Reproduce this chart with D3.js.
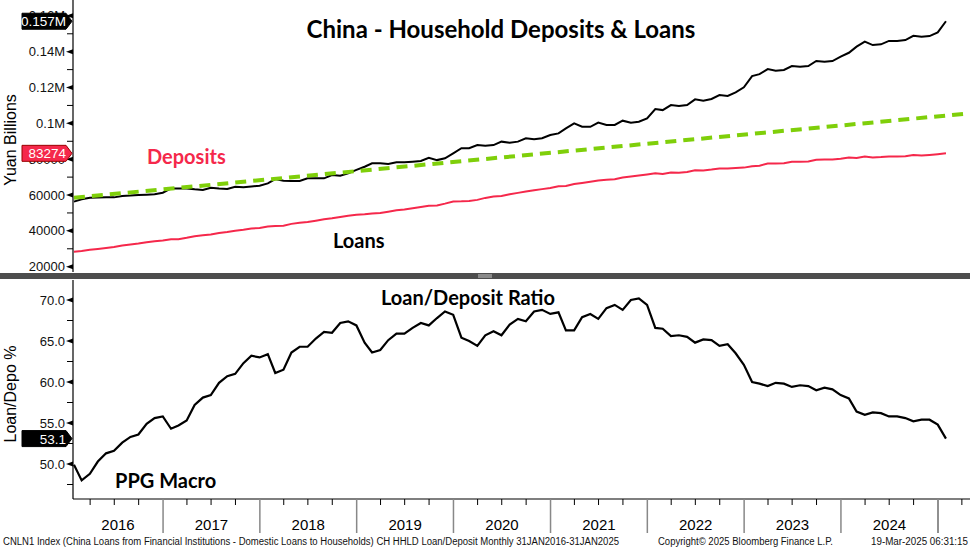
<!DOCTYPE html>
<html>
<head>
<meta charset="utf-8">
<script src="https://cdn.jsdelivr.net/npm/d3@7"></script>
<style>
  body { margin: 0; background: #fff; }
  svg { display: block; }
  .tick-label { font-family: "Liberation Sans", Arial, sans-serif; font-size: 13px; fill: #111; }
  .bold-label { font-family: Lato, "Open Sans", sans-serif; font-weight: bold; }
</style>
</head>
<body>
<div id="chart"></div>
<script>
var width = 970;
var height = 549;

// monthly observations, month ends Jan 2016 .. Jan 2025
var firstMonth = "2016-01";
var lastMonth = "2025-01";

// black line (upper series)
var deposits = [
  56300, 57600, 58500, 58600, 58700, 58700, 59500, 59700, 60000, 60200, 60400, 61300,
  63700, 63700, 63700, 63200, 62800, 64100, 63600, 63400, 64600, 64300, 64800, 65200,
  66500, 68900, 68000, 67800, 67800, 69300, 69300, 69300, 71200, 70800, 72100, 74000,
  75800, 77700, 77700, 77300, 78300, 78300, 78600, 79000, 80800, 79500, 80500, 83300,
  86100, 86100, 87900, 87500, 87900, 89800, 89200, 89800, 91700, 91100, 91700, 93500,
  94400, 97200, 100000, 98100, 98100, 100400, 99100, 99100, 101500, 100400, 100900, 102800,
  108000, 107400, 110200, 109700, 110200, 113400, 112600, 113600, 115800, 115300, 117300, 120100,
  126400, 127500, 130300, 129400, 129800, 132000, 131600, 132000, 134800, 134400, 134800, 137200,
  139400, 142800, 145600, 143700, 144100, 146000, 146000, 146500, 148900, 148300, 148700, 150800,
  157000
];

// red line (lower series)
var loans = [
  28400, 28800, 29400, 29900, 30500, 31000, 31800, 32400, 32900, 33600, 34200, 34600,
  35300, 35300, 36100, 37000, 37500, 38000, 38800, 39400, 40100, 40600, 41300, 41600,
  42400, 42700, 42900, 43900, 44500, 44900, 45700, 46500, 47000, 47800, 48500, 49000,
  49300, 49700, 50000, 50700, 51500, 51900, 52600, 53300, 54000, 54200, 55200, 56400,
  56500, 56700, 57300, 58400, 59200, 59500, 60400, 61200, 62000, 62700, 63300, 63900,
  64900, 65000, 66100, 66700, 67400, 68100, 68500, 68800, 69800, 70400, 70900, 71500,
  72200, 71800, 72600, 72400, 72800, 73800, 73700, 74200, 74800, 74800, 75100, 75300,
  76000, 76400, 77600, 77600, 77800, 78600, 78600, 78700, 79700, 79800, 79800, 80200,
  80900, 80700, 81500, 81000, 81200, 81500, 81500, 81600, 82300, 82100, 82400, 82800,
  83274
];

// loan / deposit ratio, %
var ratio = [
  49.9, 48.0, 48.8, 50.3, 51.3, 51.6, 52.6, 53.3, 53.6, 54.9, 55.6, 55.8,
  54.3, 54.7, 55.3, 57.2, 58.1, 58.4, 59.9, 60.7, 61.0, 62.3, 63.2, 63.0,
  63.4, 61.1, 61.5, 63.6, 64.3, 64.3, 65.3, 66.1, 66.0, 67.2, 67.4, 66.9,
  64.8, 63.6, 63.9, 65.1, 65.9, 65.9, 66.6, 67.2, 66.9, 67.8, 68.6, 68.2,
  65.4, 65.0, 64.4, 65.7, 66.2, 65.7, 67.0, 67.7, 67.4, 68.6, 68.8, 68.3,
  68.5, 66.3, 66.3, 67.9, 68.3, 67.7, 69.0, 69.4, 68.8, 70.0, 70.2, 69.4,
  66.6, 66.5, 65.6, 65.7, 65.5, 64.8, 65.2, 65.1, 64.4, 64.6, 63.5, 62.1,
  60.0, 59.8, 59.5, 59.9, 59.8, 59.4, 59.6, 59.5, 59.0, 59.3, 59.1, 58.4,
  58.0, 56.4, 56.0, 56.3, 56.2, 55.8, 55.8, 55.6, 55.2, 55.4, 55.4, 54.8,
  53.1
];

// green dashed trend line end points
var trendDates = ["2016-01-31", "2025-05-01"];
var trendValues = [58500, 105600];

var yearLabels = ["2016", "2017", "2018", "2019", "2020", "2021", "2022", "2023", "2024"];
var topTicks = [20000, 40000, 60000, 80000, 100000, 120000, 140000, 160000];
var topMinor = [30000, 50000, 70000, 90000, 110000, 130000, 150000];
var bottomTicks = [50, 55, 60, 65, 70];
var bottomMinor = [47.5, 52.5, 57.5, 62.5, 67.5];

var parseDay = d3.utcParse("%Y-%m-%d");
var parseMonth = d3.utcParse("%Y-%m");
// month-end date for each observation
var dates = d3.utcMonth.range(parseMonth(firstMonth), d3.utcMonth.offset(parseMonth(lastMonth), 1))
  .map(function(d) { return d3.utcDay.offset(d3.utcMonth.offset(d, 1), -1); });

var left = 73, right = 970;
var topPanel = { top: 0, bottom: 272 };
var botPanel = { top: 280, bottom: 499 };

var svg = d3.select("#chart").append("svg")
  .attr("width", width).attr("height", height);
svg.append("rect").attr("width", width).attr("height", height).attr("fill", "#fff");

var x = d3.scaleUtc()
  .domain([parseDay("2016-01-01"), parseDay("2025-01-01")])
  .range([66, 938]);

var yTop = d3.scaleLinear().domain([20000, 140000]).range([266.7, 51.7]);
var yBot = d3.scaleLinear().domain([50, 70]).range([464, 300]);

svg.append("clipPath").attr("id", "clipTop").append("rect")
  .attr("x", left).attr("y", topPanel.top).attr("width", right - left).attr("height", topPanel.bottom - topPanel.top);
svg.append("clipPath").attr("id", "clipBot").append("rect")
  .attr("x", left).attr("y", botPanel.top).attr("width", right - left).attr("height", botPanel.bottom - botPanel.top);

// ---------- left axes ----------
function fmtTop(v) {
  if (v >= 100000) return (v / 1e6) + "M";
  return String(v);
}

function drawLeftAxis(scale, majors, minors, y0, y1, fmt) {
  var g = svg.append("g");
  g.append("line").attr("x1", left).attr("x2", left).attr("y1", y0).attr("y2", y1)
    .attr("stroke", "#000").attr("stroke-width", 1.2);
  minors.forEach(function(v) {
    var yy = scale(v);
    if (yy < y0 || yy > y1) return;
    g.append("line").attr("x1", left - 6).attr("x2", left).attr("y1", yy).attr("y2", yy)
      .attr("stroke", "#000");
  });
  majors.forEach(function(v) {
    var yy = scale(v);
    if (yy < y0 || yy > y1) return;
    g.append("path")
      .attr("d", "M" + left + "," + (yy - 2.5) + "L" + (left - 7) + "," + yy + "L" + left + "," + (yy + 2.5) + "Z")
      .attr("fill", "#000");
    g.append("text").attr("class", "tick-label")
      .attr("x", left - 8).attr("y", yy + 4.5)
      .attr("text-anchor", "end")
      .text(fmt(v));
  });
}

drawLeftAxis(yTop, topTicks, topMinor, topPanel.top, topPanel.bottom, fmtTop);
drawLeftAxis(yBot, bottomTicks, bottomMinor, botPanel.top, botPanel.bottom, function(v) { return v.toFixed(1); });

// axis titles
svg.append("text")
  .attr("transform", "translate(16,140) rotate(-90)")
  .attr("text-anchor", "middle")
  .style("font-family", "'Liberation Sans', Arial, sans-serif").style("font-size", "16px")
  .text("Yuan Billions");
svg.append("text")
  .attr("transform", "translate(16,394) rotate(-90)")
  .attr("text-anchor", "middle")
  .style("font-family", "'Liberation Sans', Arial, sans-serif").style("font-size", "16px")
  .text("Loan/Depo %");

// ---------- top panel lines ----------
var lineTop = d3.line()
  .x(function(d, i) { return x(dates[i]); })
  .y(function(d) { return yTop(d); });

var topG = svg.append("g").attr("clip-path", "url(#clipTop)");

topG.append("path")
  .datum(loans)
  .attr("d", lineTop)
  .attr("fill", "none").attr("stroke", "#f5284b").attr("stroke-width", 2);

topG.append("path")
  .datum(deposits)
  .attr("d", lineTop)
  .attr("fill", "none").attr("stroke", "#000").attr("stroke-width", 2);

var trendLine = d3.line()
  .x(function(d, i) { return x(parseDay(trendDates[i])); })
  .y(function(d) { return yTop(d); });

topG.append("path")
  .datum(trendValues)
  .attr("d", trendLine)
  .attr("fill", "none").attr("stroke", "#7fcf0a").attr("stroke-width", 4)
  .attr("stroke-dasharray", "11,7");

// ---------- bottom panel line ----------
var lineBot = d3.line()
  .x(function(d, i) { return x(dates[i]); })
  .y(function(d) { return yBot(d); });

svg.append("g").attr("clip-path", "url(#clipBot)")
  .append("path")
  .datum(ratio)
  .attr("d", lineBot)
  .attr("fill", "none").attr("stroke", "#000").attr("stroke-width", 2.2);

// ---------- last value tags ----------
function tag(yc, fill, stroke, label) {
  var g = svg.append("g");
  g.append("path")
    .attr("d", "M22," + (yc - 8) + "L66," + (yc - 8) + "L72," + yc + "L66," + (yc + 8) + "L22," + (yc + 8) + "Z")
    .attr("fill", fill).attr("stroke", stroke).attr("stroke-width", 1);
  g.append("text").attr("class", "tick-label")
    .attr("x", 66).attr("y", yc + 5)
    .attr("text-anchor", "end")
    .style("fill", "#fff")
    .style("font-size", "13.5px")
    .text(label);
}
tag(yTop(deposits[deposits.length - 1]), "#000", "#000", "0.157M");
tag(yTop(loans[loans.length - 1]), "#f5284b", "#900", String(loans[loans.length - 1]));
tag(yBot(ratio[ratio.length - 1]), "#000", "#000", ratio[ratio.length - 1].toFixed(1));

// ---------- separator between panels ----------
svg.append("rect").attr("x", 0).attr("y", 273).attr("width", width).attr("height", 6).attr("fill", "#4d4d4d");
[275, 277].forEach(function(yy) {
  svg.append("line").attr("x1", 478).attr("x2", 492).attr("y1", yy).attr("y2", yy)
    .attr("stroke", "#c8c8c8").attr("stroke-width", 1);
});

// ---------- bottom time axis ----------
var xg = svg.append("g");
xg.append("line").attr("x1", left).attr("x2", right).attr("y1", botPanel.bottom).attr("y2", botPanel.bottom)
  .attr("stroke", "#000").attr("stroke-width", 1.2);

x.ticks(d3.utcMonth.every(3)).forEach(function(d) {
  var xx = x(d);
  if (xx < left + 2 || xx > right) return;
  if (d.getUTCMonth() === 0) {
    xg.append("line").attr("x1", xx).attr("x2", xx).attr("y1", botPanel.bottom).attr("y2", 533)
      .attr("stroke", "#888").attr("stroke-width", 1.5);
  } else {
    xg.append("line").attr("x1", xx).attr("x2", xx).attr("y1", botPanel.bottom).attr("y2", botPanel.bottom + 6)
      .attr("stroke", "#000");
  }
});
// quarterly ticks and boundary past the end of the domain
var afterEnd = [parseDay("2025-01-01"), parseDay("2025-04-01")];
xg.append("line").attr("x1", x(afterEnd[0])).attr("x2", x(afterEnd[0]))
  .attr("y1", botPanel.bottom).attr("y2", 533).attr("stroke", "#888").attr("stroke-width", 1.5);
xg.append("line").attr("x1", x(afterEnd[1])).attr("x2", x(afterEnd[1]))
  .attr("y1", botPanel.bottom).attr("y2", botPanel.bottom + 6).attr("stroke", "#000");

yearLabels.forEach(function(lbl) {
  var a = parseDay(lbl + "-01-01"), b = parseDay((+lbl + 1) + "-01-01");
  xg.append("text")
    .attr("x", (Math.max(x(a), left) + x(b)) / 2)
    .attr("y", 530)
    .attr("text-anchor", "middle")
    .style("font-family", "'Liberation Sans', Arial, sans-serif").style("font-size", "15px")
    .text(lbl);
});

// ---------- annotations ----------
svg.append("text").attr("class", "bold-label")
  .attr("x", 501).attr("y", 38).attr("text-anchor", "middle")
  .style("font-size", "24px").text("China - Household Deposits & Loans");
svg.append("text").attr("class", "bold-label")
  .attr("x", 147).attr("y", 164)
  .style("font-size", "20px").style("fill", "#f5284b").text("Deposits");
svg.append("text").attr("class", "bold-label")
  .attr("x", 333).attr("y", 248)
  .style("font-size", "20px").text("Loans");
svg.append("text").attr("class", "bold-label")
  .attr("x", 381).attr("y", 305)
  .style("font-size", "20px").text("Loan/Deposit Ratio");
svg.append("text").attr("class", "bold-label")
  .attr("x", 115).attr("y", 488)
  .style("font-size", "20px").text("PPG Macro");

// ---------- footer ----------
var foot = svg.append("g")
  .style("font-family", "'Liberation Sans', Arial, sans-serif").style("font-size", "10px").style("fill", "#111");
foot.append("text").attr("x", 3).attr("y", 545)
  .attr("textLength", 616).attr("lengthAdjust", "spacingAndGlyphs")
  .text("CNLN1 Index (China Loans from Financial Institutions - Domestic Loans to Households) CH HHLD Loan/Deposit  Monthly 31JAN2016-31JAN2025");
foot.append("text").attr("x", 658).attr("y", 545)
  .attr("textLength", 175).attr("lengthAdjust", "spacingAndGlyphs")
  .text("Copyright\u00a9 2025 Bloomberg Finance L.P.");
foot.append("text").attr("x", 871).attr("y", 545)
  .attr("textLength", 97).attr("lengthAdjust", "spacingAndGlyphs")
  .text("19-Mar-2025 06:31:15");
</script>
</body>
</html>
